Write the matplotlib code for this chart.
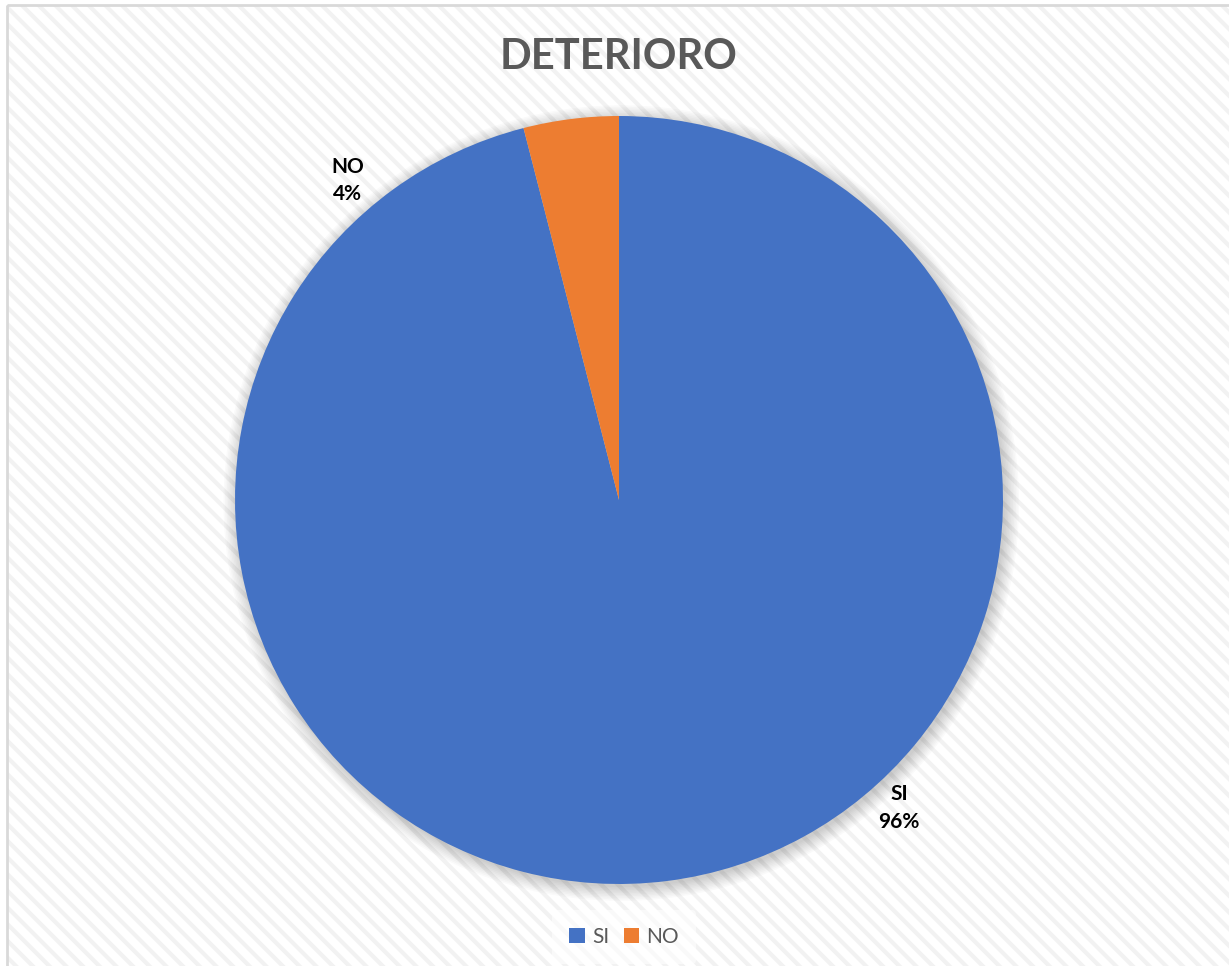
import matplotlib.pyplot as plt
from matplotlib.patches import Rectangle, Circle

# answer counts as shares of the total
categories = ["SI", "NO"]
shares = [96, 4]
slice_colors = ["#4472C4", "#ED7D31"]
chart_title = "DETERIORO"

plt.rcParams["font.family"] = ["Lato", "DejaVu Sans"]
plt.rcParams["hatch.linewidth"] = 3.0

fig = plt.figure(figsize=(12.29, 9.66), dpi=100)
fig.patch.set_facecolor("white")

# background layer: light diagonal texture inside a grey frame
bg = fig.add_axes([0, 0, 1, 1], zorder=-5)
bg.set_xlim(0, 1229)
bg.set_ylim(966, 0)
bg.axis("off")
bg.add_patch(Rectangle((7, 5), 1240, 980, facecolor="white", edgecolor="#f2f2f2",
                       linewidth=0, hatch="\\\\"))
bg.add_patch(Rectangle((7, 5), 1240, 980, facecolor="none", edgecolor="#d9d9d9",
                       linewidth=2.0))

# pie area: square box centred on the plot
cx, cy, r = 619, 500, 384
ax = fig.add_axes([(cx - r) / 1229, (966 - cy - r) / 966, 2 * r / 1229, 2 * r / 966])

# soft outer shadow
for k in range(10):
    ax.add_patch(Circle((0.006, -0.008), 1.0 + 0.004 * k, facecolor="#000000",
                        alpha=0.018, edgecolor="none", zorder=1, clip_on=False))

wedges, _ = ax.pie(shares, colors=slice_colors, startangle=90, counterclock=False,
                   radius=1.0, wedgeprops=dict(linewidth=0))
for w in wedges:
    w.set_zorder(2)
ax.set_xlim(-1, 1)
ax.set_ylim(-1, 1)
ax.set_aspect("equal")
ax.axis("off")

label_pos = {"NO": (-0.706, 0.833), "SI": (0.729, -0.802)}
for name, val in zip(categories, shares):
    x, y = label_pos[name]
    ax.text(x, y, f"{name}\n{val}%", ha="center", va="center", fontsize=15,
            fontweight="bold", color="black", linespacing=1.45, zorder=3)

fig.text(619 / 1229, 1 - 57 / 966, chart_title, ha="center", va="center",
         fontsize=30, fontweight="bold", color="#595959")

leg = fig.legend(wedges, categories, loc="center", bbox_to_anchor=(624 / 1229, 1 - 937 / 966),
                 ncol=2, frameon=True, fontsize=15, handlelength=0.75, handleheight=0.75,
                 handletextpad=0.35, columnspacing=0.7, borderpad=0.8)
leg.get_frame().set_facecolor("white")
leg.get_frame().set_edgecolor("none")
leg.get_frame().set_alpha(0.6)
for t in leg.get_texts():
    t.set_color("#595959")

fig.savefig("out.png", dpi=100)
